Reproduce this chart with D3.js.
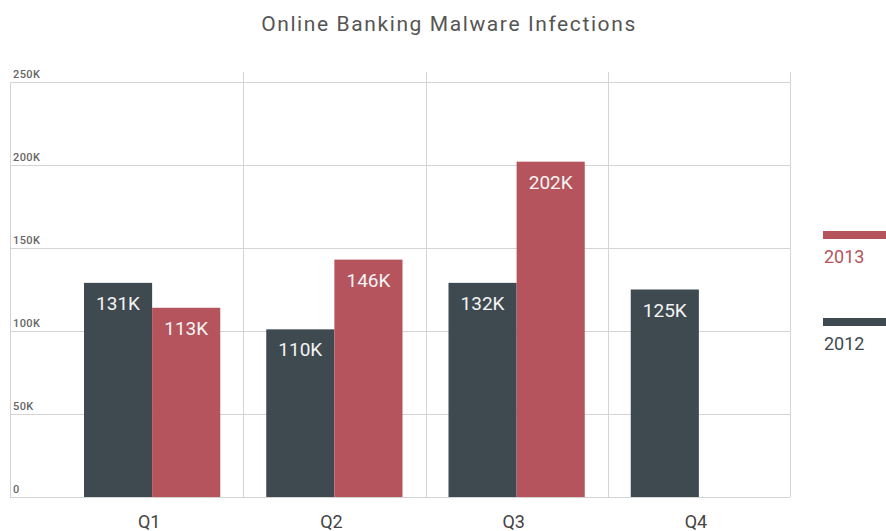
<!DOCTYPE html>
<html>
<head>
<meta charset="utf-8">
<script src="https://cdn.jsdelivr.net/npm/d3@7"></script>
<style>
  body { margin: 0; background: #fff; }
  text { font-family: Roboto, "Noto Sans", sans-serif; }
</style>
</head>
<body>
<script>
var width = 886,
    height = 531;

// quarters and the two years
var quarters = ["Q1", "Q2", "Q3", "Q4"];
var years = ["2012", "2013"];

// bar heights as drawn (thousands)
var values2012 = [129, 101, 129, 125];
var values2013 = [114, 143, 202, null];

// printed labels on the bars
var labels2012 = ["131K", "110K", "132K", "125K"];
var labels2013 = ["113K", "146K", "202K", ""];

var yTicks = [0, 50, 100, 150, 200, 250];
var yTickLabels = ["0", "50K", "100K", "150K", "200K", "250K"];

var color = { "2012": "#3e4a50", "2013": "#b5545c" };

var plot = { left: 10, right: 790, top: 82, bottom: 497 };

var svg = d3.select("body").append("svg")
    .attr("width", width)
    .attr("height", height);

var y = d3.scaleLinear()
    .domain([0, 250])
    .range([plot.bottom, plot.top]);

var x = d3.scaleBand()
    .domain(quarters)
    .range([61, plot.right])
    .paddingInner(0)
    .paddingOuter(0);

var x1 = d3.scaleBand()
    .domain(years)
    .range([23, x.bandwidth() - 23]);

// title
svg.append("text")
    .attr("x", 449)
    .attr("y", 31)
    .attr("text-anchor", "middle")
    .style("font-size", "21px")
    .style("letter-spacing", "1.6px")
    .style("fill", "#555")
    .text("Online Banking Malware Infections");

// grid
var grid = svg.append("g").attr("stroke", "#d4d4d4").attr("stroke-width", 1);

grid.selectAll("line.h")
    .data(yTicks)
    .enter().append("line")
    .attr("class", "h")
    .attr("x1", plot.left)
    .attr("x2", plot.right)
    .attr("y1", function (d) { return Math.round(y(d)) + 0.5; })
    .attr("y2", function (d) { return Math.round(y(d)) + 0.5; });

grid.append("line")
    .attr("x1", plot.left + 0.5).attr("x2", plot.left + 0.5)
    .attr("y1", plot.top).attr("y2", plot.bottom);

grid.selectAll("line.v")
    .data(quarters)
    .enter().append("line")
    .attr("class", "v")
    .attr("x1", function (d) { return Math.round(x(d) + x.bandwidth()) + 0.5; })
    .attr("x2", function (d) { return Math.round(x(d) + x.bandwidth()) + 0.5; })
    .attr("y1", plot.top - 10)
    .attr("y2", plot.bottom);

// y tick labels
svg.selectAll("text.ytick")
    .data(yTicks)
    .enter().append("text")
    .attr("class", "ytick")
    .attr("x", 13)
    .attr("y", function (d) { return y(d) - 4; })
    .style("font-size", "11px")
    .style("letter-spacing", "0.4px")
    .style("font-weight", "500")
    .style("fill", "#666")
    .text(function (d, i) { return yTickLabels[i]; });

// bars
var rows = [];
quarters.forEach(function (q, i) {
    rows.push({ q: q, year: "2012", v: values2012[i], label: labels2012[i] });
    if (values2013[i] != null) rows.push({ q: q, year: "2013", v: values2013[i], label: labels2013[i] });
});

var bars = svg.append("g");

bars.selectAll("rect")
    .data(rows)
    .enter().append("rect")
    .attr("x", function (d) { return x(d.q) + x1(d.year); })
    .attr("width", x1.bandwidth())
    .attr("y", function (d) { return y(d.v); })
    .attr("height", function (d) { return y(0) - y(d.v); })
    .attr("fill", function (d) { return color[d.year]; });

bars.selectAll("text")
    .data(rows)
    .enter().append("text")
    .attr("x", function (d) { return x(d.q) + x1(d.year) + x1.bandwidth() / 2; })
    .attr("y", function (d) { return y(d.v) + 27; })
    .attr("text-anchor", "middle")
    .style("font-size", "19px")
    .style("fill", "#f4f4f4")
    .text(function (d) { return d.label; });

// x labels
svg.selectAll("text.xlab")
    .data(quarters)
    .enter().append("text")
    .attr("class", "xlab")
    .attr("x", function (d) { return x(d) + x.bandwidth() / 2 - 3; })
    .attr("y", 528)
    .attr("text-anchor", "middle")
    .style("font-size", "18px")
    .style("fill", "#444")
    .text(function (d) { return d; });

// legend
var legend = svg.selectAll("g.legend")
    .data(["2013", "2012"])
    .enter().append("g")
    .attr("class", "legend")
    .attr("transform", function (d, i) { return "translate(823," + (231 + i * 87) + ")"; });

legend.append("rect")
    .attr("width", 63)
    .attr("height", 8)
    .attr("fill", function (d) { return color[d]; });

legend.append("text")
    .attr("x", 1)
    .attr("y", 32)
    .style("font-size", "18px")
    .style("fill", function (d) { return d === "2013" ? "#b5545c" : "#3e4a50"; })
    .text(function (d) { return d; });
</script>
</body>
</html>
